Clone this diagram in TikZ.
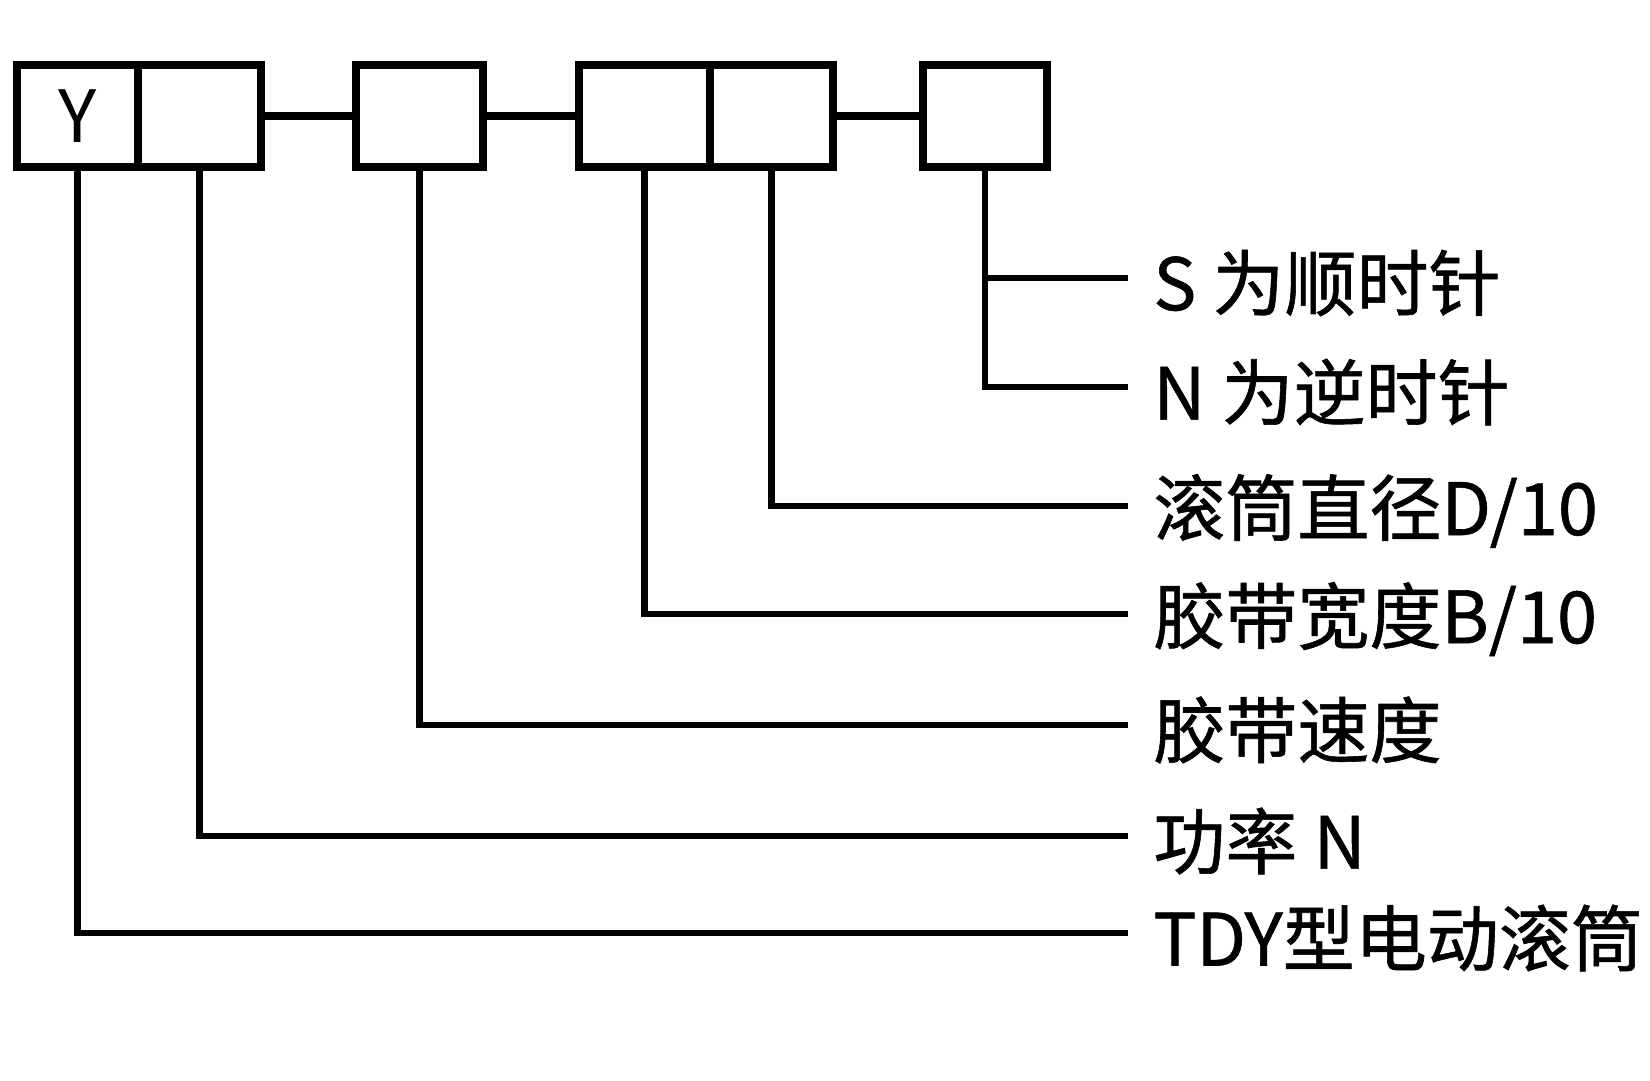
\documentclass[tikz,border=0pt]{standalone}
\usepackage{fontspec}
\setmainfont{Noto Sans CJK SC}
\newfontfamily\lblfont{Noto Sans CJK SC}[FakeBold=0.8]
\usepackage{tikz}

\begin{document}
\begin{tikzpicture}[x=0.02cm, y=-0.02cm,
        cell/.style={draw, line width=4.4pt, minimum height=2.04cm, inner sep=0pt,
                font=\fontsize{41}{41}\selectfont},
        joint/.style={line width=4pt},
        lead/.style={line width=3.6pt},
        lbl/.style={anchor=west, inner sep=0pt, font=\lblfont\fontsize{41}{41}\selectfont}]
        \useasboundingbox (0,0) rectangle (1650,1080);
        % code boxes
        \node[cell, minimum width=2.42cm] (y) at (77.5,116) {Y};
        \node[cell, minimum width=2.46cm] (p) at (199.5,116) {};
        \node[cell, minimum width=2.54cm] (v) at (419.5,116) {};
        \node[cell, minimum width=2.62cm] (b) at (644.5,116) {};
        \node[cell, minimum width=2.46cm] (d) at (771.5,116) {};
        \node[cell, minimum width=2.48cm] (r) at (985,116) {};
        \draw[joint] (p.east) -- (v.west);
        \draw[joint] (v.east) -- (b.west);
        \draw[joint] (d.east) -- (r.west);
        % line ends and labels
        \foreach \e/\yy/\t in {eS/278/{S 为顺时针}, eN/387/{N 为逆时针},
                        eD/506/{滚筒直径D/10}, eB/614/{胶带宽度B/10},
                        eV/725/{胶带速度}, eP/836/{功率 N}, eT/933/{TDY型电动滚筒}}
        {
                \coordinate (\e) at (1128,\yy);
                \node[lbl] (t\e) at ([xshift=0.5cm, yshift=-0.1cm]\e) {\t};
        }
        \foreach \c/\e in {r/eN, d/eD, b/eB, v/eV, p/eP, y/eT}
                \draw[lead] (\c.south) |- (\e);
        \draw[lead] (r.south |- eS) -- (eS);
\end{tikzpicture}
\end{document}
